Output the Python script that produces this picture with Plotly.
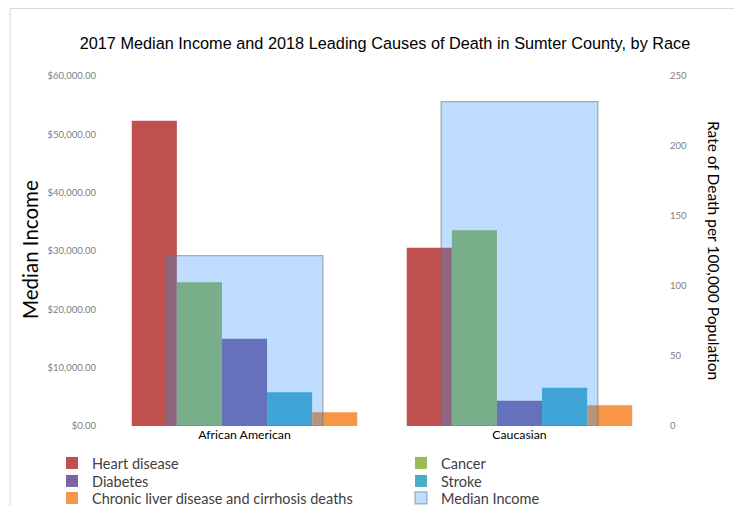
import plotly.graph_objects as go

categories = ["African American", "Caucasian"]
heart_disease = [218, 127.4]
cancer = [102.6, 139.8]
diabetes = [62.4, 18.1]
stroke = [24.1, 27.4]
liver = [9.8, 14.8]
median_income = [29200, 55600]

series = [
    ("Heart disease", heart_disease, "#C0504D", "legend"),
    ("Cancer", cancer, "#9BBB59", "legend"),
    ("Diabetes", diabetes, "#8064A2", "legend2"),
    ("Stroke", stroke, "#4BACC6", "legend2"),
    ("Chronic liver disease and cirrhosis deaths", liver, "#F79646", "legend3"),
]

# page body adds an 8px offset; figure coordinates below are screen coords - 8
OFF = 8
W, H = 742 - OFF, 506 - OFF
ML, MR = 1, 1
T, B = 76 - OFF, H - (426 - OFF)
pw, ph = W - ML - MR, H - T - B


def px(x):
    return (x - OFF - ML) / pw


def py(y):
    return (H - B - (y - OFF)) / ph


fig = go.Figure()
for name, vals, col, leg in series:
    fig.add_trace(go.Bar(x=categories, y=vals, name=name, marker_color=col,
                         marker_line_width=0, yaxis="y", legend=leg))

fig.add_trace(go.Bar(x=categories, y=median_income, name="Median Income", yaxis="y2",
                     width=0.57, legend="legend3",
                     marker=dict(color="rgba(42,145,255,0.3)",
                                 line=dict(color="rgba(110,110,110,0.55)", width=1.2))))

leg_font = dict(family="Lato", size=14.5, color="#404040")


def legend_row(top):
    return dict(orientation="h", x=px(52), xanchor="left", y=py(top), yanchor="top",
                entrywidth=304, entrywidthmode="pixels", font=leg_font,
                traceorder="normal", itemwidth=30, bgcolor="rgba(0,0,0,0)")


fig.update_layout(
    width=W, height=H,
    margin=dict(l=ML, r=MR, t=T, b=B, autoexpand=False),
    plot_bgcolor="white", paper_bgcolor="white",
    barmode="group", bargap=0.18, bargroupgap=0,
    title=dict(text="2017 Median Income and 2018 Leading Causes of Death in Sumter County, by Race",
               x=(385 - OFF) / W, xanchor="center", y=1 - (43 - OFF) / H, yanchor="middle",
               font=dict(family="Liberation Sans, Arial", size=16.3, color="#000000")),
    xaxis=dict(domain=[px(107), px(657)], showgrid=False, showline=False, ticks="",
               tickfont=dict(family="Lato, Open Sans", size=12.3, color="#000000")),
    yaxis=dict(side="right", range=[0, 250], dtick=50, showgrid=False, zeroline=False,
               showline=False, tickfont=dict(family="Lato", size=9.5, color="#808080"),
               ticklabelstandoff=12),
    yaxis2=dict(side="left", overlaying="y", range=[0, 60000], dtick=10000,
                tickformat="$,.2f", showgrid=False, zeroline=False, showline=False,
                tickfont=dict(family="Lato", size=9.5, color="#808080"),
                ticklabelstandoff=10),
    legend=legend_row(447),
    legend2=legend_row(465),
    legend3=legend_row(482),
    shapes=[dict(type="rect", xref="paper", yref="paper",
                 x0=px(10), x1=px(739), y0=py(530), y1=py(8.5),
                 line=dict(color="#D9D9D9", width=1), fillcolor="rgba(0,0,0,0)", layer="below")],
    annotations=[
        dict(text="Median Income", xref="paper", yref="paper",
             x=px(30), y=py(250), textangle=-90, showarrow=False,
             xanchor="center", yanchor="middle",
             font=dict(family="Lato", size=20.5, color="#000000")),
        dict(text="Rate of Death per 100,000 Population", xref="paper", yref="paper",
             x=px(714), y=py(250), textangle=90, showarrow=False,
             xanchor="center", yanchor="middle",
             font=dict(family="Lato", size=15.5, color="#000000")),
    ],
)

fig.write_html("out.html")
